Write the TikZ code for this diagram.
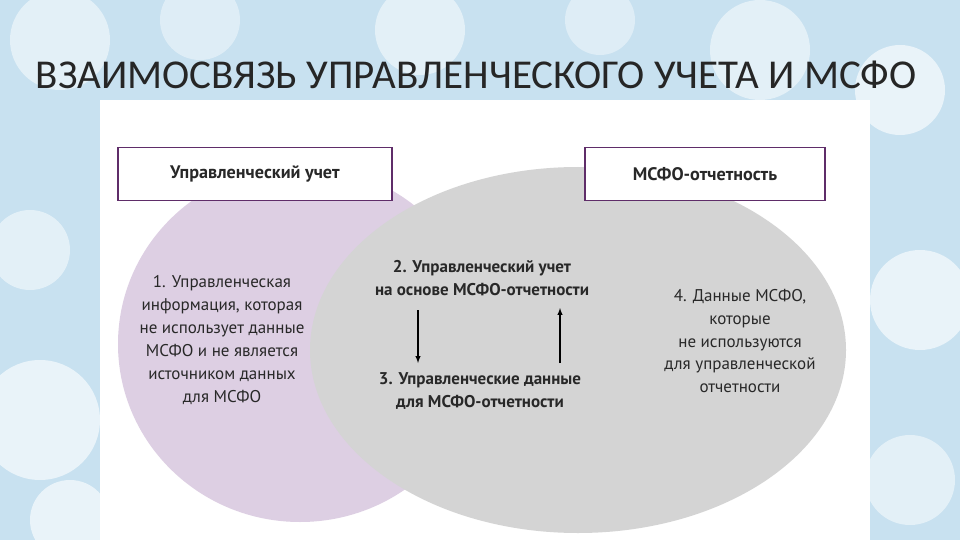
\documentclass[tikz,border=0pt]{standalone}
\usepackage{fontspec}
\setmainfont{PT Sans}
\newfontfamily\titlefont{Carlito}
\definecolor{bgblue}{RGB}{200,225,240}
\definecolor{purp}{RGB}{221,207,227}
\definecolor{greyc}{RGB}{212,212,212}
\definecolor{boxline}{RGB}{95,45,105}
\definecolor{txt}{RGB}{40,40,40}
\tikzset{
  lbl/.style={align=center,font=\fontsize{14.5}{19.6}\selectfont,text=txt},
  blbl/.style={lbl,font=\bfseries\fontsize{14.5}{19.6}\selectfont},
  bhead/.style={draw=boxline,line width=1.6pt,fill=white,minimum width=274*0.03cm,minimum height=53*0.03cm,font=\bfseries\fontsize{15.5}{18}\selectfont,text=txt},
  arr/.style={-latex,line width=1pt,black}
}
\begin{document}
\begin{tikzpicture}[x=0.03cm,y=-0.03cm]
\useasboundingbox (0,0) rectangle (960,540);
\fill[bgblue] (0,0) rectangle (960,540);
\foreach \x/\y/\r/\o in {60/40/50/0.5,200/20/40/0.4,420/30/45/0.5,600/20/35/0.4,760/50/50/0.5,900/90/45/0.6,40/420/60/0.6,920/300/50/0.6,30/250/40/0.5,910/480/45/0.5,70/520/40/0.6}
  \fill[white,opacity=\o] (\x,\y) circle (\r);
\fill[white] (100,100) rectangle (870,540);
\fill[purp] (300,344) ellipse [x radius=182,y radius=178];
\fill[greyc] (578,350) ellipse [x radius=268,y radius=183];
\node[bhead] (b1) at (255,174) {Управленческий учет};
\node[bhead,minimum width=240*0.03cm] (b2) at (705,174) {МСФО-отчетность};
\node[font=\titlefont\fontsize{35}{38}\selectfont,text=black!85] (title) at (476,75) {ВЗАИМОСВЯЗЬ УПРАВЛЕНЧЕСКОГО УЧЕТА И МСФО};
\node[lbl] (t1) at (222,340) {1. Управленческая\\информация, которая\\не использует данные\\МСФО и не является\\источником данных\\для МСФО};
\node[blbl] (t2) at (482,278) {2. Управленческий учет\\на основе МСФО-отчетности};
\node[blbl] (t3) at (480,391) {3. Управленческие данные\\для МСФО-отчетности};
\node[lbl] (t4) at (740,341) {4. Данные МСФО,\\которые\\не используются\\для управленческой\\отчетности};
\coordinate (a1) at (418,310); \coordinate (a2) at (418,363);
\coordinate (c1) at (560,363); \coordinate (c2) at (560,308);
\draw[arr] (a1) -- (a2);
\draw[arr] (c1) -- (c2);
\end{tikzpicture}
\end{document}
